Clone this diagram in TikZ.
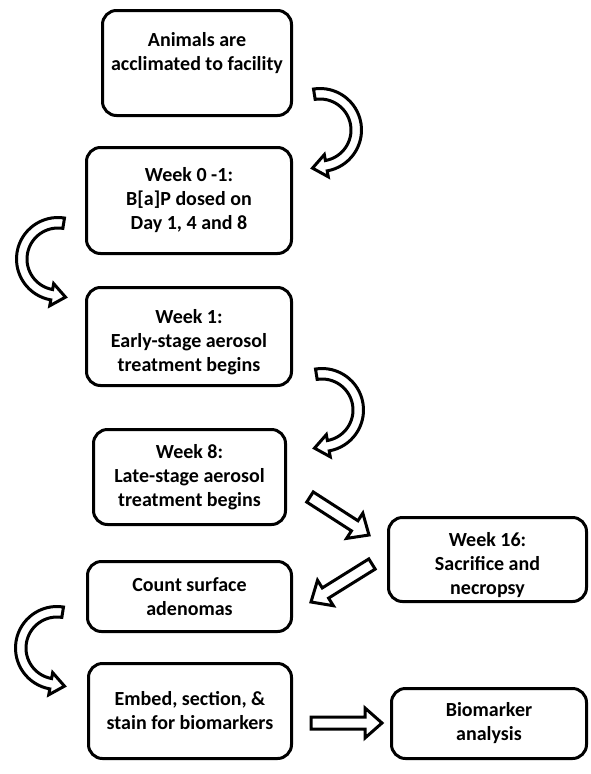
\documentclass[tikz,border=0pt]{standalone}
\usepackage{fontspec}
\setmainfont{Carlito}
\usetikzlibrary{calc}
\newcommand\blockarrow[2]{%
  \draw[barrow] let \p1=(#1), \p2=(#2), \n1={atan2(\y2-\y1,\x2-\x1)}, \n2={veclen(\x2-\x1,\y2-\y1)-17} in
    ($(\p1)+(\n1+90:6)$) -- ++(\n1:\n2) -- ++(\n1+90:9) -- (\p2) -- ($(\p1)+(\n1:\n2)+(\n1-90:15)$) -- ++(\n1+90:9) -- ($(\p1)+(\n1-90:6)$) -- cycle;}
\begin{document}
\begin{tikzpicture}[x=1pt,y=1pt,
  box/.style={draw, line width=3pt, rounded corners=14pt, align=center,
    font=\bfseries\fontsize{20}{24}\selectfont, inner sep=0pt},
  barrow/.style={draw, line width=3pt, fill=white, line join=miter},
  curvarrow/.pic={
    \draw[barrow] (99:41.5) arc[start angle=99, end angle=-80, radius=41.5]
      -- (-80:47.5) -- ($(-80:36.25)+(-170:14)$) -- (-80:25) -- (-80:31)
      arc[start angle=-80, end angle=99, radius=31] -- cycle;
  }]
\useasboundingbox (0,0) rectangle (590,-774);

\node[box, minimum width=189pt, minimum height=105pt] (n1) at (197,-63)
  {Animals are\\acclimated to facility\rule[-24pt]{0pt}{0pt}};
\node[box, minimum width=205pt, minimum height=106pt] (n2) at (189,-200.5)
  {Week 0 -1:\\B[a]P dosed on\\Day 1, 4 and 8};
\node[box, minimum width=205pt, minimum height=98pt] (n3) at (189,-336.5)
  {\rule{0pt}{26pt}Week 1:\\Early-stage aerosol\\treatment begins};
\node[box, minimum width=192pt, minimum height=95pt] (n4) at (189.5,-477)
  {Week 8:\\Late-stage aerosol\\treatment begins};
\node[box, minimum width=198pt, minimum height=84pt] (n5) at (487.5,-559.5)
  {\rule{0pt}{26pt}Week 16:\\Sacrifice and\\necropsy};
\node[box, minimum width=204pt, minimum height=70pt] (n6) at (189.5,-596.5)
  {Count surface\\adenomas};
\node[box, minimum width=203pt, minimum height=95pt] (n7) at (190,-711)
  {Embed, section, \&\\stain for biomarkers};
\node[box, minimum width=195pt, minimum height=70pt] (n8) at (489,-723.5)
  {Biomarker\\analysis};

\pic at (320,-130) {curvarrow};
\pic[xscale=-1] at (58,-259) {curvarrow};
\pic at (322,-410) {curvarrow};
\pic[xscale=-1] at (57,-648) {curvarrow};

\coordinate (a1s) at (310,-497);
\coordinate (a1e) at (369,-535);
\coordinate (a2s) at (372,-564);
\coordinate (a2e) at (311,-602);
\coordinate (a3s) at (311,-723);
\coordinate (a3e) at (382,-723);
\blockarrow{a1s}{a1e}
\blockarrow{a2s}{a2e}
\blockarrow{a3s}{a3e}
\end{tikzpicture}
\end{document}
